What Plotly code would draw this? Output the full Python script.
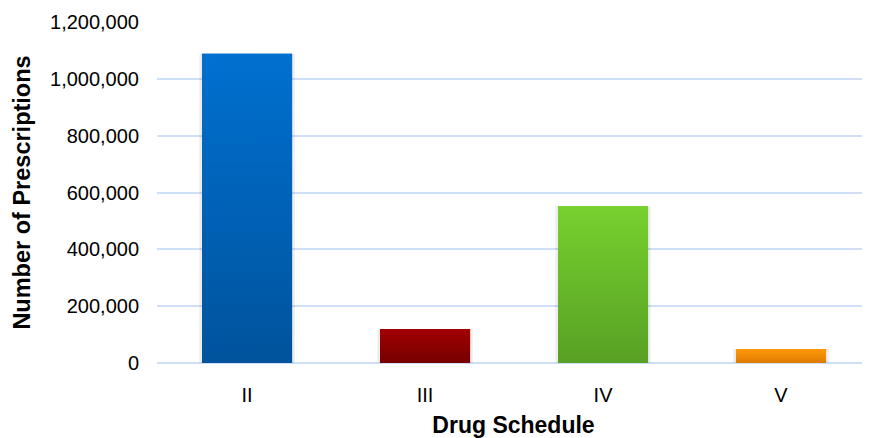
import plotly.graph_objects as go

# ---- data ----
schedules = ["II", "III", "IV", "V"]
prescriptions = [1088000, 120000, 552000, 49000]

# ---- styles ----
top_colors = ["#0070d0", "#a30000", "#76d12e", "#ff9a0a"]
bottom_colors = ["#00539c", "#760000", "#58a024", "#dd7a00"]
mid_colors = ["#0062b6", "#8c0000", "#67b829", "#ee8a05"]
BAR_W = 0.506
FONT = "Liberation Sans, Arial, sans-serif"
GRID = "#cfdff7"

xs = list(range(len(schedules)))

fig = go.Figure()

# faint soft shadow behind the bars
fig.add_trace(go.Bar(
    x=xs, y=prescriptions, width=BAR_W + 0.03,
    marker=dict(color="rgba(0,0,0,0.07)", line=dict(width=0)),
    hoverinfo="skip", showlegend=False,
))

# base bars (solid colour), drawn through the axis scales
fig.add_trace(go.Bar(
    x=xs, y=prescriptions, width=BAR_W,
    marker=dict(color=mid_colors, line=dict(width=0)),
    hoverinfo="skip", showlegend=False,
))

# gradient overlay for each bar, derived from the same data
for i, v in enumerate(prescriptions):
    x0, x1 = xs[i] - BAR_W / 2, xs[i] + BAR_W / 2
    fig.add_trace(go.Scatter(
        x=[x0, x1, x1, x0, x0], y=[0, 0, v, v, 0],
        mode="lines", fill="toself",
        line=dict(width=0, color="rgba(0,0,0,0)"),
        fillgradient=dict(type="vertical",
                          colorscale=[[0, bottom_colors[i]], [1, top_colors[i]]]),
        hoverinfo="skip", showlegend=False,
    ))

# page has an 8px body margin, so the figure is 8px smaller and margins shifted
fig.update_layout(
    width=862, height=430,
    margin=dict(l=149, r=0, t=14, b=75),
    paper_bgcolor="white", plot_bgcolor="white",
    font=dict(family=FONT, color="#000000"),
    barmode="overlay",
)

fig.update_xaxes(
    range=[-0.506, 3.5],
    tickmode="array", tickvals=xs, ticktext=schedules,
    tickfont=dict(size=20, family=FONT),
    ticks="", ticklabelstandoff=18,
    showgrid=False, zeroline=False, showline=False,
    title=dict(text="<b>Drug Schedule</b>", font=dict(size=23, family=FONT), standoff=16),
)

fig.update_yaxes(
    range=[0, 1200000], dtick=200000, tickformat=",",
    tickfont=dict(size=20, family=FONT),
    ticks="", ticklabelstandoff=17,
    showgrid=True, gridcolor=GRID, gridwidth=2,
    zeroline=True, zerolinecolor=GRID, zerolinewidth=2,
    showline=False,
    title=dict(text="<b>Number of Prescriptions</b>", font=dict(size=23.5, family=FONT), standoff=12),
)

fig.write_html("out.html")
